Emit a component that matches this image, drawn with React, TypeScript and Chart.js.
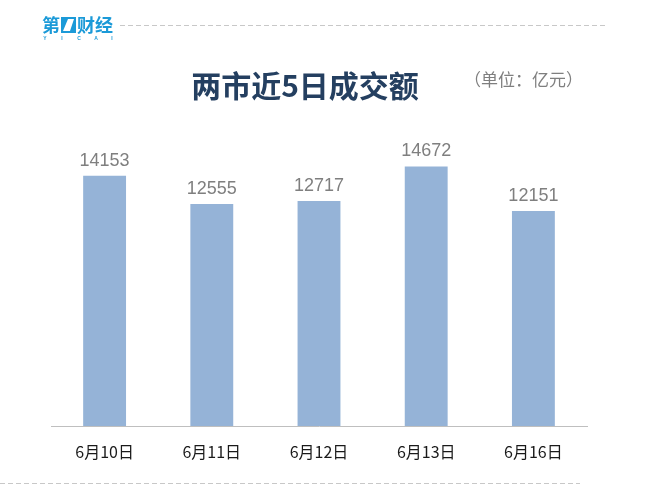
import React, { useEffect, useRef } from "react";
import { Chart, registerables } from "chart.js";

Chart.register(...registerables);

const categories = ["6月10日", "6月11日", "6月12日", "6月13日", "6月16日"];
const turnover = [14153, 12555, 12717, 14672, 12151];
const titleText = "两市近5日成交额";
const unitText = "（单位：亿元）";
const logoFirst = "第";
const logoRest = "财经";
const logoSub = ["Y", "I", "C", "A", "I"];

const W = 667;
const H = 499;

const decorPlugin = {
  id: "decor",
  beforeDraw(chart: any) {
    const ctx = chart.ctx;
    ctx.save();
    ctx.fillStyle = "#ffffff";
    ctx.fillRect(0, 0, W, H);
    // top dashed line
    ctx.strokeStyle = "#c8c8c8";
    ctx.lineWidth = 1;
    ctx.setLineDash([5, 3]);
    ctx.beginPath();
    ctx.moveTo(120, 25.5);
    ctx.lineTo(607, 25.5);
    ctx.stroke();
    // bottom dashed line
    ctx.beginPath();
    ctx.moveTo(0, 483.5);
    ctx.lineTo(580, 483.5);
    ctx.stroke();
    ctx.setLineDash([]);
    // logo
    const blue = "#1b9ad8";
    ctx.fillStyle = blue;
    ctx.textAlign = "left";
    ctx.textBaseline = "alphabetic";
    ctx.font = "bold 18px 'Noto Sans CJK SC'";
    ctx.fillText(logoFirst, 42, 32);
    // slanted box mark
    ctx.fillRect(61, 17, 15, 16);
    ctx.fillStyle = "#ffffff";
    ctx.beginPath();
    ctx.moveTo(68, 19);
    ctx.lineTo(74, 19);
    ctx.lineTo(70, 31);
    ctx.lineTo(63, 31);
    ctx.closePath();
    ctx.fill();
    ctx.fillStyle = blue;
    ctx.fillText(logoRest, 77, 32);
    ctx.font = "bold 5px 'Liberation Sans'";
    ctx.textAlign = "center";
    const xs = [45, 62, 79, 96, 112];
    logoSub.forEach((c, i) => ctx.fillText(c, xs[i], 40));
    // title
    ctx.fillStyle = "#243f60";
    ctx.font = "bold 30px 'Noto Sans CJK SC'";
    ctx.textAlign = "center";
    ctx.textBaseline = "middle";
    ctx.fillText(titleText, 305, 86);
    // unit
    ctx.fillStyle = "#7f7f7f";
    ctx.font = "17px 'Noto Sans CJK SC'";
    ctx.textAlign = "left";
    ctx.fillText(unitText, 464, 80);
    ctx.restore();
  },
};

const labelPlugin = {
  id: "barLabels",
  afterDatasetsDraw(chart: any) {
    const ctx = chart.ctx;
    const meta = chart.getDatasetMeta(0);
    ctx.save();
    ctx.fillStyle = "#7f7f7f";
    ctx.font = "18px 'Liberation Sans'";
    ctx.textAlign = "center";
    ctx.textBaseline = "alphabetic";
    meta.data.forEach((bar: any, i: number) => {
      ctx.fillText(String(turnover[i]), bar.x, bar.y - 10);
    });
    ctx.restore();
  },
};

export default function App() {
  const ref = useRef<HTMLCanvasElement>(null);
  useEffect(() => {
    document.body.style.margin = "0";
    const chart = new Chart(ref.current!, {
      type: "bar",
      data: {
        labels: categories,
        datasets: [
          {
            data: turnover,
            backgroundColor: "#95b3d7",
            categoryPercentage: 1,
            barPercentage: 0.4,
          },
        ],
      },
      options: {
        responsive: false,
        animation: false,
        devicePixelRatio: 1,
        layout: { padding: { left: 51, right: 80, top: 143, bottom: 0 } },
        plugins: { legend: { display: false }, tooltip: { enabled: false }, title: { display: false } },
        scales: {
          y: { display: false, min: 0, max: 16000 },
          x: {
            grid: { display: false },
            border: { display: true, color: "#bfbfbf", width: 1 },
            ticks: {
              color: "#1a1a1a",
              font: { family: "'Noto Sans CJK SC'", size: 16 },
              padding: 8,
            },
            afterFit: (s: any) => {
              s.height = 73;
            },
          },
        },
      },
      plugins: [decorPlugin, labelPlugin],
    });
    return () => chart.destroy();
  }, []);
  return (
    <div style={{ width: W, height: H }}>
      <canvas ref={ref} width={W} height={H} style={{ display: "block" }} />
    </div>
  );
}
